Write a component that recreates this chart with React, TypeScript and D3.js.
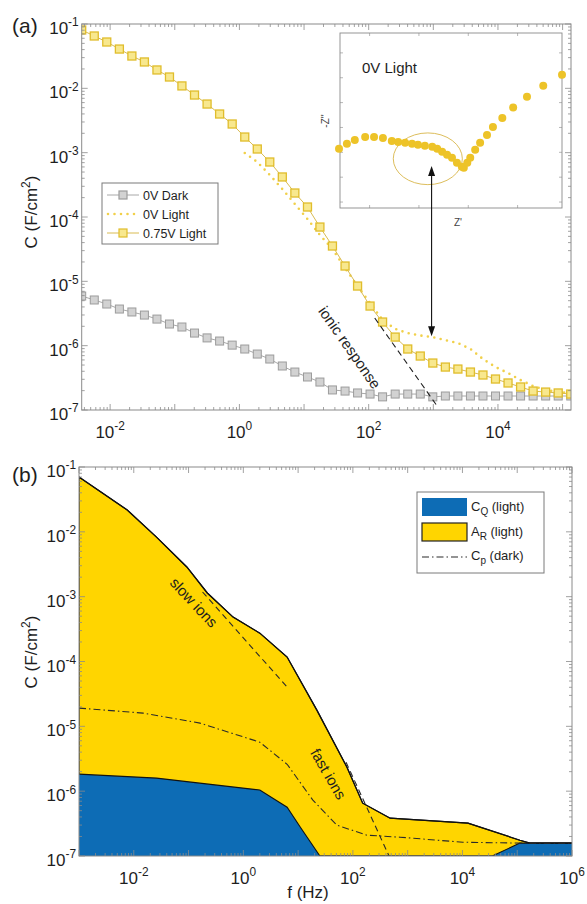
import * as d3 from "d3";
import { useEffect, useRef } from "react";

// ---------- panel (a): C vs f ----------
const freqA = [
  0.00363, 0.00568, 0.00887, 0.0139, 0.0217, 0.0339, 0.053, 0.0828, 0.129, 0.202,
  0.316, 0.494, 0.773, 1.21, 1.89, 2.95, 4.61, 7.21, 11.3, 17.6,
  27.5, 43.1, 67.3, 105, 164, 257, 402, 628, 982, 1535,
  2399, 3750, 5861, 9162, 14320, 22390, 34990, 54700, 85500, 133700,
];
const dark0V = [
  5.91e-6, 5.13e-6, 4.44e-6, 3.71e-6, 3.34e-6, 2.99e-6, 2.59e-6, 2.17e-6, 1.95e-6, 1.57e-6,
  1.32e-6, 1.18e-6, 1.02e-6, 8.87e-7, 7.41e-7, 6.2e-7, 4.83e-7, 3.89e-7, 3.26e-7, 2.72e-7,
  2.05e-7, 1.97e-7, 1.84e-7, 1.77e-7, 1.6e-7, 1.77e-7, 1.77e-7, 1.77e-7, 1.6e-7, 1.65e-7,
  1.65e-7, 1.65e-7, 1.65e-7, 1.65e-7, 1.65e-7, 1.65e-7, 1.65e-7, 1.65e-7, 1.65e-7, 1.65e-7,
];
const light075V = [
  0.0807, 0.0651, 0.0525, 0.0408, 0.0318, 0.0257, 0.0193, 0.015, 0.0109, 0.00787,
  0.0057, 0.00399, 0.00279, 0.00175, 0.00114, 7.16e-4, 4.19e-4, 2.36e-4, 1.43e-4, 6.98e-5,
  3.54e-5, 1.73e-5, 8.45e-6, 4.13e-6, 2.33e-6, 1.36e-6, 8.87e-7, 6.9e-7, 5.37e-7, 4.65e-7,
  4.33e-7, 3.89e-7, 3.5e-7, 3.03e-7, 2.63e-7, 2.28e-7, 1.97e-7, 1.9e-7, 1.84e-7, 1.77e-7,
];
// 0V light only measured from ~1 Hz up
const freqLight0V = [
  1.21, 1.89, 2.95, 4.61, 7.21, 11.3, 17.6, 27.5, 43.1, 67.3,
  105, 164, 257, 402, 628, 982, 1535, 2399, 3750, 5861,
  9162, 14320, 22390, 34990, 54700, 85500, 133700,
];
const light0V = [
  9.89e-4, 7.16e-4, 4.5e-4, 2.72e-4, 1.59e-4, 9.31e-5, 5.25e-5, 3.18e-5, 1.61e-5, 8.45e-6,
  4.6e-6, 2.51e-6, 1.82e-6, 1.57e-6, 1.44e-6, 1.36e-6, 1.22e-6, 1.1e-6, 8.87e-7, 6.2e-7,
  4.65e-7, 3.76e-7, 2.92e-7, 2.36e-7, 2.05e-7, 1.9e-7, 1.84e-7,
];
const ionicF = [124, 1122];
const ionicC = [2.69e-6, 1.19e-7];
const arrowF = 940;
const arrowC = [6.2e-4, 1.4e-6];

// inset Nyquist plot (arbitrary units)
const nyqRe = [
  -0.62, -0.46, -0.3, -0.09, 0.09, 0.27, 0.45, 0.58, 0.72, 0.86, 0.98, 1.12, 1.27, 1.37,
  1.47, 1.57, 1.67, 1.77, 1.87, 1.91, 1.98, 2.04, 2.14, 2.24, 2.38, 2.5, 2.69, 2.91, 3.19,
  3.52, 3.9,
];
const nyqIm = [
  1.07, 1.17, 1.25, 1.31, 1.31, 1.29, 1.23, 1.21, 1.19, 1.17, 1.15, 1.13, 1.11, 1.07,
  1.01, 0.95, 0.89, 0.79, 0.71, 0.69, 0.79, 0.89, 1.05, 1.19, 1.35, 1.51, 1.69, 1.9, 2.12,
  2.34, 2.56,
];

// ---------- panel (b): decomposition ----------
const fTop = [0.001, 0.0076, 0.026, 0.093, 0.22, 0.65, 2.0, 6.3, 22, 78, 151, 479, 12600, 112000, 170000, 1e6];
const cTop = [0.0701, 0.0217, 0.0083, 0.00287, 0.00114, 4.84e-4, 2.74e-4, 1.17e-4, 1.78e-5, 2.34e-6, 6.53e-7, 3.83e-7, 3.21e-7, 1.75e-7, 1.58e-7, 1.58e-7];
const fCQ = [0.001, 0.026, 0.16, 2.0, 6.3, 11, 25, 35000, 112000, 1e6];
const cCQ = [1.83e-6, 1.59e-6, 1.33e-6, 1.04e-6, 5.66e-7, 2.78e-7, 1e-7, 1e-7, 1.58e-7, 1.58e-7];
const fCp = [0.001, 0.0148, 0.162, 2.0, 6.3, 18.6, 51, 182, 724, 10200, 112000, 1e6];
const cCp = [1.91e-5, 1.6e-5, 1.12e-5, 5.7e-6, 2.6e-6, 7.26e-7, 2.99e-7, 2.09e-7, 1.95e-7, 1.63e-7, 1.58e-7, 1.58e-7];
const slowF = [0.18, 6.3];
const slowC = [1.18e-3, 4.03e-5];
const fastF = [75, 457];
const fastC = [2.8e-6, 1e-7];

const xLabelsA = [-2, 0, 2, 4];
const xLabelsB = [-2, 0, 2, 4, 6];
const yLabels = [-1, -2, -3, -4, -5, -6, -7];

const AXIS = "#8a8a8a";
const TXT = "#1e1e1e";
const FONT = "'Liberation Sans', Arial, Helvetica, sans-serif";
const YEL = "#ffd500";
const BLUE = "#0d6cb5";

function powText(sel, exp, size) {
  sel.append("tspan").text("10");
  sel.append("tspan").attr("dy", -0.45 * size).attr("font-size", size * 0.7).text(String(exp));
}

function drawFrame(g, x, y, xLabs, yLabs) {
  const [x0, x1] = x.range();
  const [yb, yt] = y.range();
  const t = g.append("g").attr("stroke", AXIS).attr("stroke-width", 0.8);
  const [dx0, dx1] = x.domain();
  for (let e = Math.floor(Math.log10(dx0)); e <= Math.ceil(Math.log10(dx1)); e++) {
    for (let m = 1; m < 10; m++) {
      const v = m * Math.pow(10, e);
      if (v < dx0 * 0.999 || v > dx1 * 1.001) continue;
      const px = x(v);
      const len = m === 1 ? 6 : 3;
      t.append("line").attr("x1", px).attr("x2", px).attr("y1", yb).attr("y2", yb - len);
      t.append("line").attr("x1", px).attr("x2", px).attr("y1", yt).attr("y2", yt + len);
    }
  }
  const [dy0, dy1] = y.domain();
  for (let e = Math.floor(Math.log10(dy0)); e <= Math.ceil(Math.log10(dy1)); e++) {
    for (let m = 1; m < 10; m++) {
      const v = m * Math.pow(10, e);
      if (v < dy0 * 0.999 || v > dy1 * 1.001) continue;
      const py = y(v);
      const len = m === 1 ? 6 : 3;
      t.append("line").attr("x1", x0).attr("x2", x0 + len).attr("y1", py).attr("y2", py);
      t.append("line").attr("x1", x1).attr("x2", x1 - len).attr("y1", py).attr("y2", py);
    }
  }
  g.append("rect")
    .attr("x", x0).attr("y", yt).attr("width", x1 - x0).attr("height", yb - yt)
    .attr("fill", "none").attr("stroke", AXIS).attr("stroke-width", 1);

  xLabs.forEach((e) => {
    const s = g.append("text").attr("x", x(Math.pow(10, e))).attr("y", yb + 28)
      .attr("text-anchor", "middle").attr("font-size", 17).attr("fill", TXT);
    powText(s, e, 17);
  });
  yLabs.forEach((e) => {
    const s = g.append("text").attr("x", x0 - 3).attr("y", y(Math.pow(10, e)) + 10)
      .attr("text-anchor", "end").attr("font-size", 17).attr("fill", TXT);
    powText(s, e, 17);
  });
}

function yTitle(svg, cx, cy) {
  const s = svg.append("text").attr("transform", `translate(${cx},${cy}) rotate(-90)`)
    .attr("text-anchor", "middle").attr("font-size", 17).attr("fill", TXT);
  s.append("tspan").text("C (F/cm");
  s.append("tspan").attr("dy", -7).attr("font-size", 12).text("2");
  s.append("tspan").attr("dy", 7).text(")");
}

export default function App() {
  const ref = useRef(null);

  useEffect(() => {
    const svg = d3.select(ref.current);
    svg.selectAll("*").remove();
    svg.attr("font-family", FONT);

    // ================= panel (a) =================
    const xA = d3.scaleLog().domain([Math.pow(10, -2.44), Math.pow(10, 5.13)]).range([81.7, 571]);
    const yA = d3.scaleLog().domain([1e-7, 1e-1]).range([410, 24]);
    const gA = svg.append("g");
    svg.append("clipPath").attr("id", "clipA").append("rect")
      .attr("x", 81.7).attr("y", 24).attr("width", 571 - 81.7).attr("height", 410 - 24);
    const pA = gA.append("g").attr("clip-path", "url(#clipA)");

    const lineA = d3.line().x((d) => xA(d[0])).y((d) => yA(d[1]));
    const darkPts = freqA.map((f, i) => [f, dark0V[i]]);
    const l075Pts = freqA.map((f, i) => [f, light075V[i]]);
    const l0Pts = freqLight0V.map((f, i) => [f, light0V[i]]);

    pA.append("path").attr("d", lineA(darkPts)).attr("fill", "none")
      .attr("stroke", "#a8a8a8").attr("stroke-width", 1);
    pA.selectAll("rect.dark").data(darkPts).join("rect").attr("class", "dark")
      .attr("x", (d) => xA(d[0]) - 4).attr("y", (d) => yA(d[1]) - 4)
      .attr("width", 8).attr("height", 8)
      .attr("fill", "#d2d2d2").attr("stroke", "#9c9c9c").attr("stroke-width", 1);

    pA.append("path").attr("d", lineA(l0Pts)).attr("fill", "none")
      .attr("stroke", "#f1d04a").attr("stroke-width", 2.6)
      .attr("stroke-dasharray", "0,6.5").attr("stroke-linecap", "round");

    pA.append("path").attr("d", lineA(l075Pts)).attr("fill", "none")
      .attr("stroke", "#d9bb52").attr("stroke-width", 1);
    pA.selectAll("rect.l075").data(l075Pts).join("rect").attr("class", "l075")
      .attr("x", (d) => xA(d[0]) - 4).attr("y", (d) => yA(d[1]) - 4)
      .attr("width", 8).attr("height", 8)
      .attr("fill", "#f8e88e").attr("stroke", "#e0bd2c").attr("stroke-width", 1.3);

    pA.append("path")
      .attr("d", lineA(ionicF.map((f, i) => [f, ionicC[i]])))
      .attr("fill", "none").attr("stroke", "#222").attr("stroke-width", 1.1)
      .attr("stroke-dasharray", "6,4");

    gA.append("text")
      .attr("transform", `translate(${xA(49)},${yA(9.1e-7)}) rotate(55)`)
      .attr("text-anchor", "middle").attr("dominant-baseline", "middle")
      .attr("font-size", 15).attr("fill", TXT).text("ionic response");

    // legend (a)
    const lgA = gA.append("g").attr("transform", "translate(102,183)");
    lgA.append("rect").attr("width", 116).attr("height", 61)
      .attr("fill", "#fff").attr("stroke", "#7a7a7a").attr("stroke-width", 1);
    const legA = [
      { label: "0V Dark", kind: "dark" },
      { label: "0V Light", kind: "dot" },
      { label: "0.75V Light", kind: "sq" },
    ];
    legA.forEach((it, i) => {
      const cy = 12 + i * 19;
      if (it.kind === "dot") {
        lgA.append("line").attr("x1", 6).attr("x2", 36).attr("y1", cy).attr("y2", cy)
          .attr("stroke", "#f1d04a").attr("stroke-width", 2.6)
          .attr("stroke-dasharray", "0,6.5").attr("stroke-linecap", "round");
      } else {
        const dark = it.kind === "dark";
        lgA.append("line").attr("x1", 5).attr("x2", 37).attr("y1", cy).attr("y2", cy)
          .attr("stroke", dark ? "#a8a8a8" : "#d9bb52").attr("stroke-width", 1);
        lgA.append("rect").attr("x", 17).attr("y", cy - 4).attr("width", 8).attr("height", 8)
          .attr("fill", dark ? "#d2d2d2" : "#f8e88e")
          .attr("stroke", dark ? "#9c9c9c" : "#e0bd2c").attr("stroke-width", 1.2);
      }
      lgA.append("text").attr("x", 41).attr("y", cy + 4.5).attr("font-size", 12.5)
        .attr("fill", TXT).text(it.label);
    });

    // inset
    const xI = d3.scaleLinear().domain([-0.6, 3.9]).range([340, 562]);
    const yI = d3.scaleLinear().domain([-0.12, 3.4]).range([208, 33]);
    const gI = gA.append("g");
    gI.append("rect").attr("x", 340).attr("y", 33).attr("width", 222).attr("height", 175)
      .attr("fill", "#fff");
    const tI = gI.append("g").attr("stroke", "#9a9a9a").attr("stroke-width", 0.7);
    [0, 1, 2, 3].forEach((v) => {
      tI.append("line").attr("x1", xI(v)).attr("x2", xI(v)).attr("y1", 208).attr("y2", 205);
      tI.append("line").attr("x1", xI(v)).attr("x2", xI(v)).attr("y1", 33).attr("y2", 36);
    });
    [0, 0.5, 1, 1.5, 2, 2.5, 3].forEach((v) => {
      tI.append("line").attr("x1", 340).attr("x2", 343).attr("y1", yI(v)).attr("y2", yI(v));
      tI.append("line").attr("x1", 562).attr("x2", 559).attr("y1", yI(v)).attr("y2", yI(v));
    });
    gI.append("rect").attr("x", 340).attr("y", 33).attr("width", 222).attr("height", 175)
      .attr("fill", "none").attr("stroke", "#8a8a8a").attr("stroke-width", 0.9);
    gI.append("ellipse").attr("cx", xI(1.18)).attr("cy", yI(0.87))
      .attr("rx", xI(1.88) - xI(1.18)).attr("ry", yI(0.35) - yI(0.87))
      .attr("fill", "none").attr("stroke", "#d8b54a").attr("stroke-width", 0.9);
    gI.selectAll("circle").data(nyqRe.map((r, i) => [r, nyqIm[i]])).join("circle")
      .attr("cx", (d) => xI(d[0])).attr("cy", (d) => yI(d[1])).attr("r", 4)
      .attr("fill", "#edc328");
    gI.append("text").attr("x", 362).attr("y", 73).attr("font-size", 15)
      .attr("fill", TXT).text("0V Light");
    gI.append("text").attr("transform", "translate(329,121) rotate(-90)")
      .attr("text-anchor", "middle").attr("font-size", 10).attr("fill", "#444").text("-Z''");
    gI.append("text").attr("x", 458).attr("y", 226).attr("text-anchor", "middle")
      .attr("font-size", 10).attr("fill", "#444").text("Z'");

    // double arrow
    const ax = xA(arrowF);
    const ay1 = yA(arrowC[0]);
    const ay2 = yA(arrowC[1]);
    gA.append("line").attr("x1", ax).attr("x2", ax).attr("y1", ay1 + 6).attr("y2", ay2 - 6)
      .attr("stroke", "#111").attr("stroke-width", 1.1);
    gA.append("path").attr("d", `M${ax},${ay1} L${ax - 3.5},${ay1 + 10} L${ax + 3.5},${ay1 + 10} Z`)
      .attr("fill", "#111");
    gA.append("path").attr("d", `M${ax},${ay2} L${ax - 3.5},${ay2 - 10} L${ax + 3.5},${ay2 - 10} Z`)
      .attr("fill", "#111");

    drawFrame(gA, xA, yA, xLabelsA, yLabels);
    yTitle(svg, 37, 212);
    svg.append("text").attr("x", 12).attr("y", 33).attr("font-size", 21).attr("fill", TXT).text("(a)");

    // ================= panel (b) =================
    const xB = d3.scaleLog().domain([1e-3, 1e6]).range([79, 572]);
    const yB = d3.scaleLog().domain([1e-7, 1e-1]).range([856, 467]);
    const gB = svg.append("g");
    svg.append("clipPath").attr("id", "clipB").append("rect")
      .attr("x", 79).attr("y", 467).attr("width", 572 - 79).attr("height", 856 - 467);
    const pB = gB.append("g").attr("clip-path", "url(#clipB)");

    const areaB = d3.area().x((d) => xB(d[0])).y0(yB(1e-7)).y1((d) => yB(d[1]));
    const lineB = d3.line().x((d) => xB(d[0])).y((d) => yB(d[1]));
    const topPts = fTop.map((f, i) => [f, cTop[i]]);
    const cqPts = fCQ.map((f, i) => [f, cCQ[i]]);

    pB.append("path").attr("d", areaB(topPts)).attr("fill", YEL)
      .attr("stroke", "#111").attr("stroke-width", 1.2);
    pB.append("path").attr("d", areaB(cqPts)).attr("fill", BLUE);
    pB.append("path").attr("d", lineB(cqPts)).attr("fill", "none")
      .attr("stroke", "#111").attr("stroke-width", 1.1);
    pB.append("path").attr("d", lineB(topPts)).attr("fill", "none")
      .attr("stroke", "#111").attr("stroke-width", 1.2);

    pB.append("path").attr("d", lineB(fCp.map((f, i) => [f, cCp[i]])))
      .attr("fill", "none").attr("stroke", "#2a2a2a").attr("stroke-width", 1.1)
      .attr("stroke-dasharray", "7,3,1.5,3");
    pB.append("path").attr("d", lineB(slowF.map((f, i) => [f, slowC[i]])))
      .attr("fill", "none").attr("stroke", "#2a2a2a").attr("stroke-width", 1.1)
      .attr("stroke-dasharray", "6,4");
    pB.append("path").attr("d", lineB(fastF.map((f, i) => [f, fastC[i]])))
      .attr("fill", "none").attr("stroke", "#2a2a2a").attr("stroke-width", 1.1)
      .attr("stroke-dasharray", "6,4");

    gB.append("text")
      .attr("transform", `translate(${xB(0.12)},${yB(7.9e-4)}) rotate(47)`)
      .attr("text-anchor", "middle").attr("dominant-baseline", "middle")
      .attr("font-size", 15).attr("fill", TXT).text("slow ions");
    gB.append("text")
      .attr("transform", `translate(${xB(34)},${yB(1.8e-6)}) rotate(60)`)
      .attr("text-anchor", "middle").attr("dominant-baseline", "middle")
      .attr("font-size", 15).attr("fill", TXT).text("fast ions");

    // legend (b)
    const lgB = gB.append("g").attr("transform", "translate(417,492)");
    lgB.append("rect").attr("width", 127).attr("height", 81)
      .attr("fill", "#fff").attr("stroke", "#7a7a7a").attr("stroke-width", 1);
    lgB.append("rect").attr("x", 5).attr("y", 6).attr("width", 45).attr("height", 18)
      .attr("fill", BLUE);
    lgB.append("rect").attr("x", 5).attr("y", 31).attr("width", 45).attr("height", 18)
      .attr("fill", YEL).attr("stroke", "#222").attr("stroke-width", 1.2);
    lgB.append("line").attr("x1", 5).attr("x2", 50).attr("y1", 65).attr("y2", 65)
      .attr("stroke", "#2a2a2a").attr("stroke-width", 1.1).attr("stroke-dasharray", "7,3,1.5,3");
    [
      ["C", "Q", " (light)", 19],
      ["A", "R", " (light)", 44],
      ["C", "p", " (dark)", 68],
    ].forEach(([a, sub, rest, yy]) => {
      const s = lgB.append("text").attr("x", 54).attr("y", yy).attr("font-size", 13).attr("fill", TXT);
      s.append("tspan").text(a);
      s.append("tspan").attr("dy", 4).attr("font-size", 10).text(sub);
      s.append("tspan").attr("dy", -4).text(rest);
    });

    drawFrame(gB, xB, yB, xLabelsB, yLabels);
    yTitle(svg, 37, 652);
    svg.append("text").attr("x", 12).attr("y", 482).attr("font-size", 21).attr("fill", TXT).text("(b)");
    svg.append("text").attr("x", 308).attr("y", 898).attr("text-anchor", "middle")
      .attr("font-size", 17).attr("fill", TXT).text("f (Hz)");
  }, []);

  return (
    <svg
      ref={ref}
      width={587}
      height={904}
      style={{ position: "absolute", left: 0, top: 0, background: "#fff" }}
    />
  );
}
